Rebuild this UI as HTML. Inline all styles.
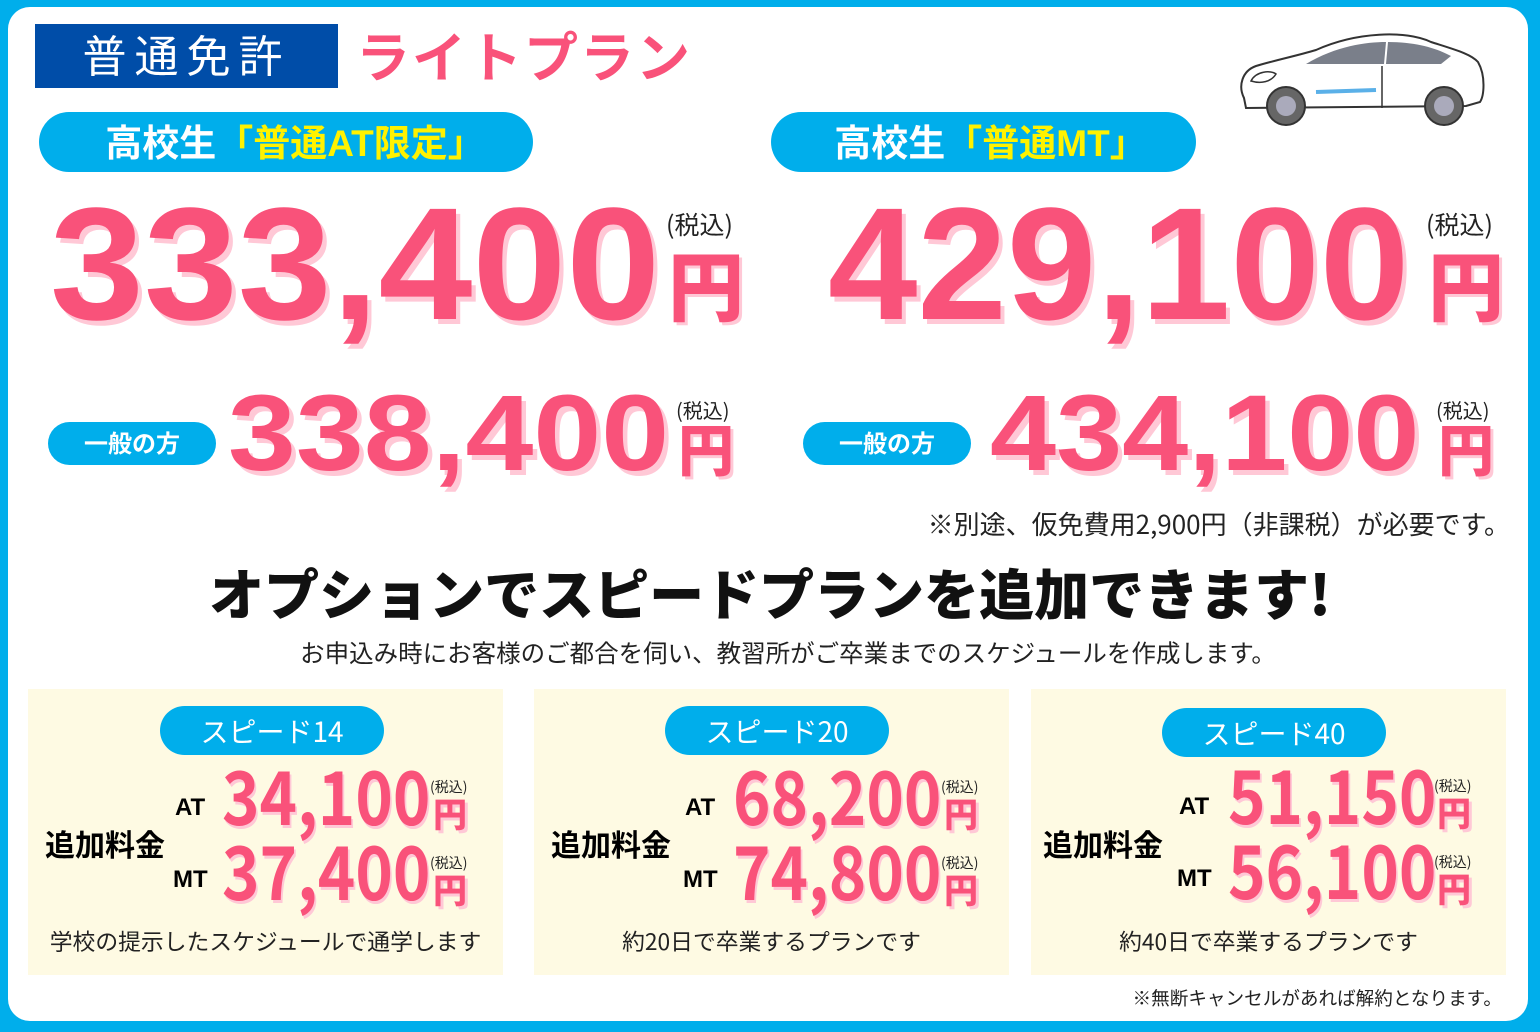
<!DOCTYPE html>
<html><head><meta charset="utf-8"><style>
*{margin:0;padding:0;box-sizing:border-box}
body{width:1540px;height:1032px;background:#00aeeb;position:relative;overflow:hidden;font-family:"Liberation Sans","Noto Sans CJK JP",sans-serif}
.panel{position:absolute;left:8px;top:7px;width:1520px;height:1014px;background:#fff;border-radius:22px}
.a{position:absolute;white-space:nowrap;line-height:1}
.big{font-family:"Liberation Sans",sans-serif;font-weight:bold;color:#f9527a;text-shadow:4px 5px 0 #ffc8d6;transform-origin:left top}
.pink{color:#f9527a}
.pill{position:absolute;background:#00aeeb;border-radius:40px;color:#fff;font-weight:bold;text-align:center}
.box{position:absolute;top:689px;width:475px;height:286px;background:#fefae3}
.sp{font-family:"Noto Sans CJK JP",sans-serif;font-weight:bold;color:#f9527a;text-shadow:2px 3px 0 #ffc8d6;transform-origin:left top}
.yen{font-family:"Noto Sans CJK JP",sans-serif;font-weight:900;color:#f9527a;text-shadow:3px 3px 0 #ffc8d6}
.tax{font-family:"Noto Sans CJK JP",sans-serif;color:#222}
</style></head><body>
<div class="panel"></div>
<div class="a" style="left:35px;top:24px;width:303px;height:64px;background:#004da8"></div>
<div class="a" style="left:35px;top:31px;width:303px;text-align:center;color:#fff;font-size:44px;letter-spacing:8px;font-family:'Noto Sans CJK JP',sans-serif">普通免許</div>
<div class="a pink" style="left:356px;top:27px;font-size:54px;font-weight:bold;letter-spacing:2px;font-family:'Noto Sans CJK JP',sans-serif">ライトプラン</div>

<svg class="a" style="left:1236px;top:26px" width="252" height="104" viewBox="0 0 252 104">
<path d="M8 72 C2 60 6 45 20 40 C40 34 60 30 80 24 C120 6 170 4 195 16 C220 24 235 28 242 36 C250 50 248 70 244 76 L230 80 L10 82 Z" fill="#fff" stroke="#333" stroke-width="2"/>
<path d="M70 38 C100 20 130 16 150 16 L148 38 Z" fill="#7a7f8a"/>
<path d="M152 16 C180 16 200 22 215 30 L205 38 L150 38 Z" fill="#7a7f8a"/>
<path d="M15 55 C20 45 35 44 40 48 C35 56 25 58 15 55Z" fill="#fff" stroke="#333" stroke-width="1.5"/>
<path d="M80 66 L140 64" stroke="#5ab0e8" stroke-width="4"/>
<line x1="146" y1="40" x2="146" y2="82" stroke="#333" stroke-width="1.5"/>
<circle cx="50" cy="80" r="19" fill="#666" stroke="#333" stroke-width="2"/><circle cx="50" cy="80" r="10" fill="#aab"/>
<circle cx="208" cy="80" r="19" fill="#666" stroke="#333" stroke-width="2"/><circle cx="208" cy="80" r="10" fill="#aab"/>
</svg>

<div class="pill" style="left:39px;top:112px;width:494px;height:60px;font-size:37px;line-height:64px;padding-left:18px">高校生<span style="color:#fff200">「普通AT限定」</span></div>
<div class="pill" style="left:771px;top:112px;width:425px;height:60px;font-size:37px;line-height:64px;padding-left:14px">高校生<span style="color:#fff200">「普通MT」</span></div>

<div class="a big" style="left:50px;top:184px;font-size:160px;transform:scaleX(1.055)">333,400</div>
<div class="a tax" style="left:666px;top:212px;font-size:25px">(税込)</div>
<div class="a yen" style="left:668px;top:244px;font-size:76px">円</div>

<div class="a big" style="left:828px;top:184px;font-size:160px;transform:scaleX(1.005)">429,100</div>
<div class="a tax" style="left:1426px;top:212px;font-size:25px">(税込)</div>
<div class="a yen" style="left:1428px;top:244px;font-size:76px">円</div>

<div class="pill" style="left:48px;top:422px;width:168px;height:43px;font-size:24px;line-height:45px">一般の方</div>
<div class="a big" style="left:228px;top:379px;font-size:108px;transform:scaleX(1.13)">338,400</div>
<div class="a tax" style="left:676px;top:400px;font-size:20px">(税込)</div>
<div class="a yen" style="left:678px;top:420px;font-size:56px">円</div>

<div class="pill" style="left:803px;top:422px;width:168px;height:43px;font-size:24px;line-height:45px">一般の方</div>
<div class="a big" style="left:990px;top:379px;font-size:108px;transform:scaleX(1.10)">434,100</div>
<div class="a tax" style="left:1436px;top:400px;font-size:20px">(税込)</div>
<div class="a yen" style="left:1438px;top:420px;font-size:56px">円</div>

<div class="a" style="right:30px;top:511px;font-size:26px;color:#222;font-family:'Noto Sans CJK JP',sans-serif">※別途、仮免費用2,900円（非課税）が必要です。</div>
<div class="a" style="left:0;width:1540px;text-align:center;top:564px;font-size:55px;font-weight:900;color:#111;font-family:'Noto Sans CJK JP',sans-serif">オプションでスピードプランを追加できます!</div>
<div class="a" style="left:18px;width:1540px;text-align:center;top:641px;font-size:24.5px;color:#222;font-family:'Noto Sans CJK JP',sans-serif">お申込み時にお客様のご都合を伺い、教習所がご卒業までのスケジュールを作成します。</div>

<div class="box" style="left:28px"></div>
<div class="box" style="left:534px"></div>
<div class="box" style="left:1031px"></div>

<div class="pill" style="left:160px;top:706px;width:224px;height:49px;font-size:28px;line-height:51px;font-weight:normal;font-family:'Noto Sans CJK JP',sans-serif">スピード14</div>
<div class="pill" style="left:665px;top:706px;width:224px;height:49px;font-size:28px;line-height:51px;font-weight:normal;font-family:'Noto Sans CJK JP',sans-serif">スピード20</div>
<div class="pill" style="left:1162px;top:708px;width:224px;height:49px;font-size:28px;line-height:51px;font-weight:normal;font-family:'Noto Sans CJK JP',sans-serif">スピード40</div>

<!-- box1 -->
<div class="a" style="left:45px;top:828px;font-size:30px;font-weight:bold;font-family:'Noto Sans CJK JP',sans-serif">追加料金</div>
<div class="a" style="left:175px;top:796px;font-size:24px;font-weight:bold">AT</div>
<div class="a" style="left:173px;top:868px;font-size:24px;font-weight:bold">MT</div>
<div class="a sp" style="left:222px;top:757px;font-size:74px;transform:scaleX(0.86)">34,100</div>
<div class="a sp" style="left:222px;top:832px;font-size:74px;transform:scaleX(0.86)">37,400</div>
<div class="a tax" style="left:430px;top:780px;font-size:14px">(税込)</div>
<div class="a yen" style="left:433px;top:796px;font-size:34px">円</div>
<div class="a tax" style="left:430px;top:856px;font-size:14px">(税込)</div>
<div class="a yen" style="left:433px;top:872px;font-size:34px">円</div>
<div class="a" style="left:28px;width:475px;text-align:center;top:930px;font-size:22.8px;color:#222;font-family:'Noto Sans CJK JP',sans-serif">学校の提示したスケジュールで通学します</div>

<!-- box2 -->
<div class="a" style="left:551px;top:828px;font-size:30px;font-weight:bold;font-family:'Noto Sans CJK JP',sans-serif">追加料金</div>
<div class="a" style="left:685px;top:796px;font-size:24px;font-weight:bold">AT</div>
<div class="a" style="left:683px;top:868px;font-size:24px;font-weight:bold">MT</div>
<div class="a sp" style="left:733px;top:757px;font-size:74px;transform:scaleX(0.86)">68,200</div>
<div class="a sp" style="left:733px;top:832px;font-size:74px;transform:scaleX(0.86)">74,800</div>
<div class="a tax" style="left:941px;top:780px;font-size:14px">(税込)</div>
<div class="a yen" style="left:944px;top:796px;font-size:34px">円</div>
<div class="a tax" style="left:941px;top:856px;font-size:14px">(税込)</div>
<div class="a yen" style="left:944px;top:872px;font-size:34px">円</div>
<div class="a" style="left:534px;width:475px;text-align:center;top:930px;font-size:22.8px;color:#222;font-family:'Noto Sans CJK JP',sans-serif">約20日で卒業するプランです</div>

<!-- box3 -->
<div class="a" style="left:1043px;top:828px;font-size:30px;font-weight:bold;font-family:'Noto Sans CJK JP',sans-serif">追加料金</div>
<div class="a" style="left:1179px;top:795px;font-size:24px;font-weight:bold">AT</div>
<div class="a" style="left:1177px;top:867px;font-size:24px;font-weight:bold">MT</div>
<div class="a sp" style="left:1228px;top:756px;font-size:74px;transform:scaleX(0.86)">51,150</div>
<div class="a sp" style="left:1228px;top:831px;font-size:74px;transform:scaleX(0.86)">56,100</div>
<div class="a tax" style="left:1434px;top:779px;font-size:14px">(税込)</div>
<div class="a yen" style="left:1437px;top:795px;font-size:34px">円</div>
<div class="a tax" style="left:1434px;top:855px;font-size:14px">(税込)</div>
<div class="a yen" style="left:1437px;top:871px;font-size:34px">円</div>
<div class="a" style="left:1031px;width:475px;text-align:center;top:930px;font-size:22.8px;color:#222;font-family:'Noto Sans CJK JP',sans-serif">約40日で卒業するプランです</div>

<div class="a" style="right:38px;top:989px;font-size:18.6px;color:#222;font-family:'Noto Sans CJK JP',sans-serif">※無断キャンセルがあれば解約となります。</div>
</body></html>
